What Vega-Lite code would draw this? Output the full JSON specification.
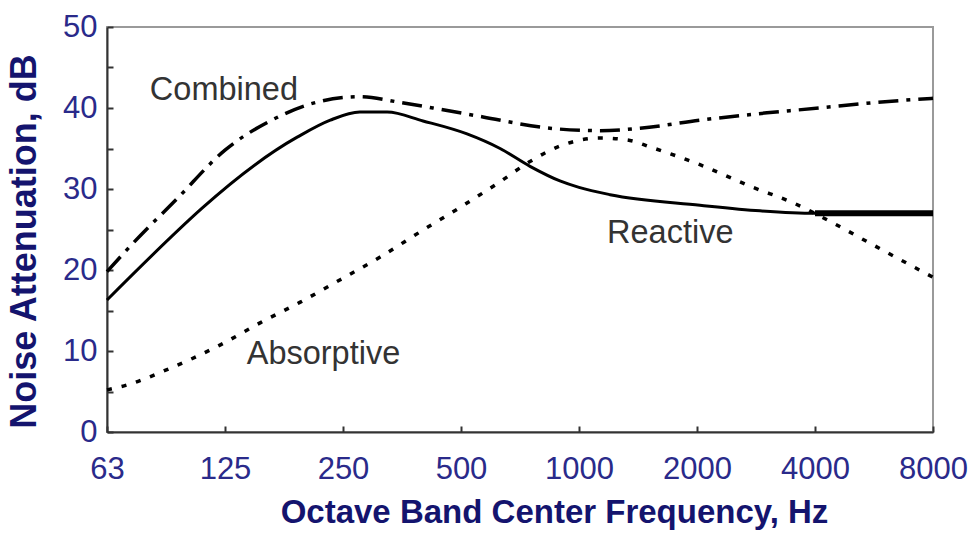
{
  "$schema": "https://vega.github.io/schema/vega-lite/v6.json",
  "width": 826,
  "height": 405,
  "autosize": {"type": "none"},
  "padding": {"left": 107, "top": 27, "right": 40, "bottom": 104},
  "background": "white",
  "config": {
    "font": "Liberation Sans",
    "view": {"stroke": "#9a9a9a", "strokeWidth": 2}
  },
  "datasets": {
    "curves": [
      {"curve": "Reactive", "freq": 62.5, "dB": 16.3},
      {"curve": "Reactive", "freq": 191, "dB": 36.4},
      {"curve": "Reactive", "freq": 232, "dB": 38.5},
      {"curve": "Reactive", "freq": 276, "dB": 39.5},
      {"curve": "Reactive", "freq": 324, "dB": 39.5},
      {"curve": "Reactive", "freq": 400, "dB": 38.4},
      {"curve": "Reactive", "freq": 518, "dB": 36.8},
      {"curve": "Reactive", "freq": 629, "dB": 35.0},
      {"curve": "Reactive", "freq": 750, "dB": 32.8},
      {"curve": "Reactive", "freq": 894, "dB": 31.0},
      {"curve": "Reactive", "freq": 1000, "dB": 30.2},
      {"curve": "Reactive", "freq": 1200, "dB": 29.3},
      {"curve": "Reactive", "freq": 2035, "dB": 28.0},
      {"curve": "Reactive", "freq": 2896, "dB": 27.3},
      {"curve": "Reactive", "freq": 4000, "dB": 27.0},
      {"curve": "Reactive", "freq": 8000, "dB": 27.0},
      {"curve": "Combined", "freq": 62.5, "dB": 19.8},
      {"curve": "Combined", "freq": 72.8, "dB": 23.3},
      {"curve": "Combined", "freq": 94.3, "dB": 28.8},
      {"curve": "Combined", "freq": 125, "dB": 34.8},
      {"curve": "Combined", "freq": 166, "dB": 38.6},
      {"curve": "Combined", "freq": 210, "dB": 40.6},
      {"curve": "Combined", "freq": 276, "dB": 41.4},
      {"curve": "Combined", "freq": 349, "dB": 40.7},
      {"curve": "Combined", "freq": 424, "dB": 40.0},
      {"curve": "Combined", "freq": 569, "dB": 38.9},
      {"curve": "Combined", "freq": 843, "dB": 37.5},
      {"curve": "Combined", "freq": 1131, "dB": 37.2},
      {"curve": "Combined", "freq": 1431, "dB": 37.5},
      {"curve": "Combined", "freq": 2035, "dB": 38.5},
      {"curve": "Combined", "freq": 3017, "dB": 39.4},
      {"curve": "Combined", "freq": 4096, "dB": 40.0},
      {"curve": "Combined", "freq": 5756, "dB": 40.7},
      {"curve": "Combined", "freq": 8000, "dB": 41.2},
      {"curve": "Absorptive", "freq": 62.5, "dB": 5.2},
      {"curve": "Absorptive", "freq": 70.3, "dB": 5.8},
      {"curve": "Absorptive", "freq": 88.9, "dB": 7.7},
      {"curve": "Absorptive", "freq": 121, "dB": 10.7},
      {"curve": "Absorptive", "freq": 154, "dB": 13.5},
      {"curve": "Absorptive", "freq": 194, "dB": 16.0},
      {"curve": "Absorptive", "freq": 246, "dB": 18.8},
      {"curve": "Absorptive", "freq": 311, "dB": 21.6},
      {"curve": "Absorptive", "freq": 393, "dB": 24.7},
      {"curve": "Absorptive", "freq": 500, "dB": 27.8},
      {"curve": "Absorptive", "freq": 629, "dB": 30.9},
      {"curve": "Absorptive", "freq": 750, "dB": 33.4},
      {"curve": "Absorptive", "freq": 894, "dB": 35.3},
      {"curve": "Absorptive", "freq": 1131, "dB": 36.3},
      {"curve": "Absorptive", "freq": 1349, "dB": 36.0},
      {"curve": "Absorptive", "freq": 1517, "dB": 35.2},
      {"curve": "Absorptive", "freq": 2035, "dB": 33.0},
      {"curve": "Absorptive", "freq": 2780, "dB": 30.2},
      {"curve": "Absorptive", "freq": 3515, "dB": 28.3},
      {"curve": "Absorptive", "freq": 4449, "dB": 25.8},
      {"curve": "Absorptive", "freq": 5624, "dB": 23.1},
      {"curve": "Absorptive", "freq": 8000, "dB": 19.1}
    ],
    "notes": [
      {"label": "Combined", "freq": 80.4, "dB": 41.0},
      {"label": "Reactive", "freq": 1179, "dB": 23.3},
      {"label": "Absorptive", "freq": 142, "dB": 8.4}
    ]
  },
  "layer": [
    {
      "data": {"name": "curves"},
      "transform": [{"filter": "datum.curve === 'Reactive'"}],
      "mark": {"type": "line", "color": "black", "strokeWidth": 3, "interpolate": "monotone"},
      "encoding": {
        "x": {
          "field": "freq", "type": "quantitative",
          "scale": {"type": "log", "domain": [62.5, 8000], "nice": false},
          "axis": {
            "values": [62.5, 125, 250, 500, 1000, 2000, 4000, 8000],
            "format": "d",
            "grid": false,
            "labelFlush": false,
            "labelOverlap": false,
            "domainColor": "#333333", "domainWidth": 2,
            "tickColor": "#333333", "tickWidth": 2, "tickSize": -6,
            "labelFont": "Liberation Sans", "labelFontSize": 31, "labelColor": "#2a2a8a",
            "labelPadding": 28, "labelBaseline": "top",
            "title": "Octave Band Center Frequency, Hz",
            "titleFont": "Liberation Sans", "titleFontSize": 33, "titleFontWeight": "bold",
            "titleColor": "#14146e",
            "titleX": 447, "titleY": 90, "titleBaseline": "alphabetic", "titleAlign": "center"
          }
        },
        "y": {
          "field": "dB", "type": "quantitative",
          "scale": {"domain": [0, 50], "nice": false},
          "axis": {
            "values": [0, 5, 10, 15, 20, 25, 30, 35, 40, 45, 50],
            "labelExpr": "datum.value % 10 === 0 ? datum.label : ''",
            "grid": false,
            "labelFlush": false,
            "domainColor": "#333333", "domainWidth": 2,
            "tickColor": "#333333", "tickWidth": 2, "tickSize": -6,
            "labelFont": "Liberation Sans", "labelFontSize": 31, "labelColor": "#2a2a8a",
            "labelPadding": 16,
            "title": "Noise Attenuation, dB",
            "titleFont": "Liberation Sans", "titleFontSize": 36, "titleFontWeight": "bold",
            "titleColor": "#14146e",
            "titleAngle": -90, "titleX": -72, "titleY": 214, "titleBaseline": "alphabetic", "titleAlign": "center"
          }
        }
      }
    },
    {
      "data": {"name": "curves"},
      "transform": [{"filter": "datum.curve === 'Reactive' && datum.freq >= 4000"}],
      "mark": {"type": "line", "color": "black", "strokeWidth": 6},
      "encoding": {
        "x": {"field": "freq", "type": "quantitative"},
        "y": {"field": "dB", "type": "quantitative"}
      }
    },
    {
      "data": {"name": "curves"},
      "transform": [{"filter": "datum.curve === 'Combined'"}],
      "mark": {"type": "line", "color": "black", "strokeWidth": 3.5, "interpolate": "monotone", "strokeDash": [20, 8, 4, 8]},
      "encoding": {
        "x": {"field": "freq", "type": "quantitative"},
        "y": {"field": "dB", "type": "quantitative"}
      }
    },
    {
      "data": {"name": "curves"},
      "transform": [{"filter": "datum.curve === 'Absorptive'"}],
      "mark": {"type": "line", "color": "black", "strokeWidth": 3.5, "interpolate": "monotone", "strokeDash": [5, 10]},
      "encoding": {
        "x": {"field": "freq", "type": "quantitative"},
        "y": {"field": "dB", "type": "quantitative"}
      }
    },
    {
      "data": {"name": "notes"},
      "mark": {"type": "text", "font": "Liberation Sans", "fontSize": 32.5, "color": "#333333", "align": "left", "baseline": "alphabetic"},
      "encoding": {
        "x": {"field": "freq", "type": "quantitative"},
        "y": {"field": "dB", "type": "quantitative"},
        "text": {"field": "label"}
      }
    }
  ]
}
